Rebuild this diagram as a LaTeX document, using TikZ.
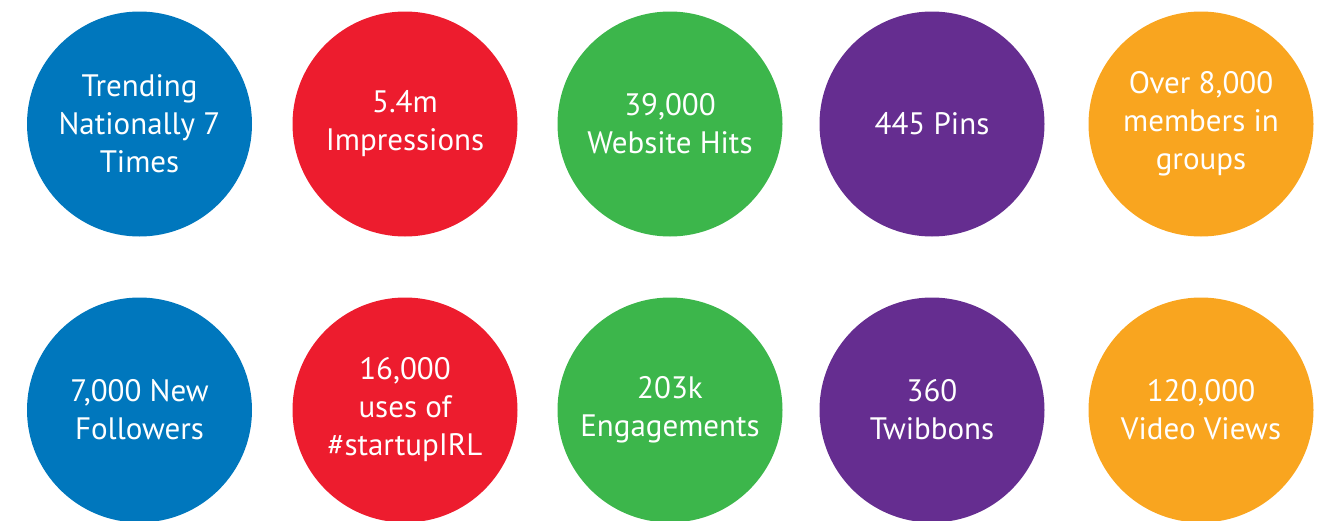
\documentclass[tikz,border=0pt]{standalone}
\usepackage{fontspec}
\setmainfont{PT Sans}

\definecolor{statblue}{HTML}{0077BD}
\definecolor{statred}{HTML}{ED1C2E}
\definecolor{statgreen}{HTML}{3CB64B}
\definecolor{statpurple}{HTML}{652D90}
\definecolor{statorange}{HTML}{F9A51F}

\tikzset{
  bubble/.style={circle, minimum size=225, inner sep=0pt, align=center,
    text=white, font=\fontsize{31}{38}\selectfont}
}

\begin{document}
\begin{tikzpicture}[x=1pt, y=1pt]

      \useasboundingbox (0,0) rectangle (1323,-520);

      % The top row of figures.
      \node [bubble, fill=statblue] (trending) at (139.5,-124)
      {Trending\\Nationally 7\\Times};
      \node [bubble, fill=statred] (impressions) at (405,-124)
      {5.4m\\Impressions};
      \node [bubble, fill=statgreen] (hits) at (670,-124)
      {39,000\\Website Hits};
      \node [bubble, fill=statpurple] (pins) at (932,-124)
      {445 Pins};
      \node [bubble, fill=statorange] (members) at (1201,-124)
      {Over 8,000\\members in\\groups};

      % The bottom row, cut off by the lower edge.
      \node [bubble, fill=statblue] (followers) at (139.5,-410)
      {7,000 New\\Followers};
      \node [bubble, fill=statred] (uses) at (405,-410)
      {16,000\\uses of\\\#startupIRL};
      \node [bubble, fill=statgreen] (engagements) at (670,-410)
      {203k\\Engagements};
      \node [bubble, fill=statpurple] (twibbons) at (932,-410)
      {360\\Twibbons};
      \node [bubble, fill=statorange] (views) at (1201,-410)
      {120,000\\Video Views};
    \end{tikzpicture}
\end{document}
